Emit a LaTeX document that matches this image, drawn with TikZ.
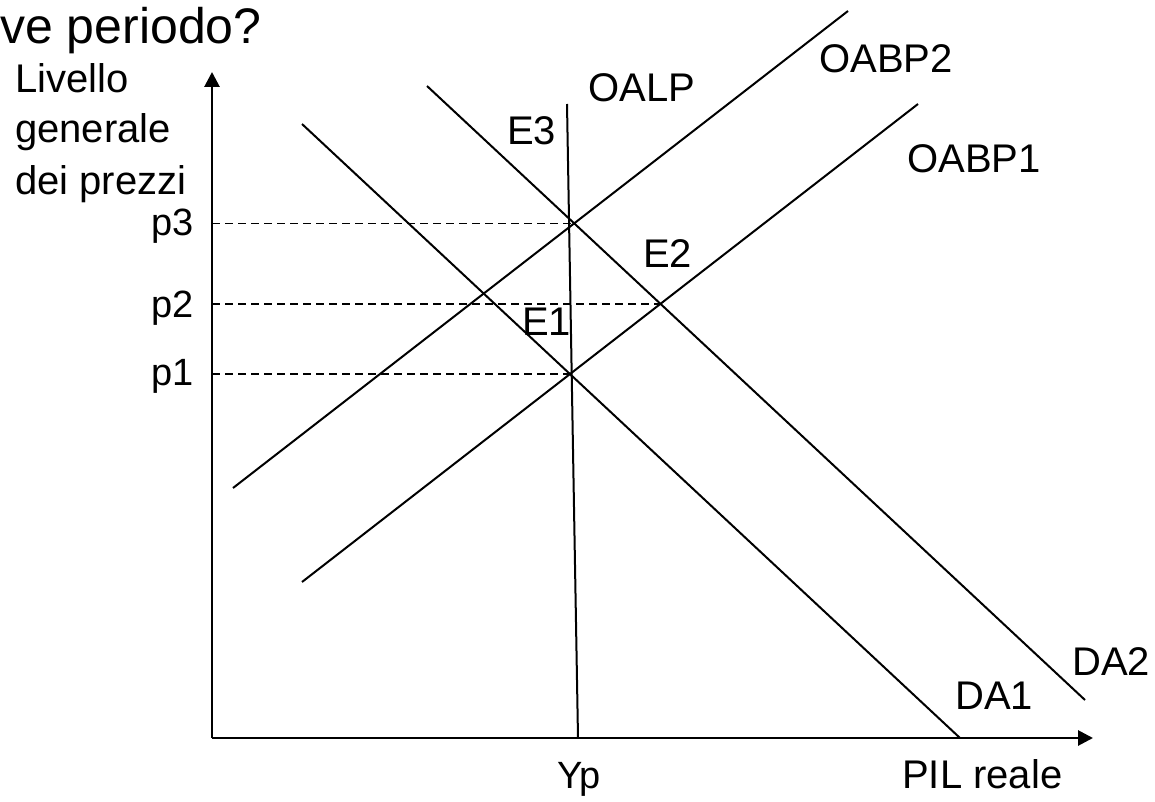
\documentclass[tikz,border=0pt]{standalone}
\usepackage{fontspec}
\setmainfont{Liberation Sans}
\usetikzlibrary{arrows.meta}
\begin{document}
\begin{tikzpicture}[x=1pt,y=-1pt,
  axis/.style={line width=2.8pt,-{Triangle[length=15pt,width=15pt]}},
  curve/.style={line width=2pt},
  guide/.style={line width=1.6pt,dash pattern=on 8pt off 5pt},
  lab/.style={inner sep=0pt,font=\fontsize{40}{48}\selectfont},
  plab/.style={inner sep=0pt,font=\fontsize{38}{44}\selectfont},
  ttl/.style={inner sep=0pt,font=\fontsize{50}{58}\selectfont}]
\useasboundingbox (0,0) rectangle (1155,802);
% axes
\coordinate (O) at (212,738);
\coordinate (ytop) at (212,72);
\coordinate (xend) at (1093,738);
\draw[axis] (O) -- (ytop);
\draw[axis] (O) -- (xend);
% curve endpoints
\coordinate (oalpB) at (578,738);
\coordinate (oalpT) at (567,104);
\coordinate (da1T) at (302,124);
\coordinate (da1B) at (960,738);
\coordinate (da2T) at (427,86);
\coordinate (da2B) at (1085,700);
\coordinate (ob1B) at (302,582);
\coordinate (ob1T) at (918,104);
\coordinate (ob2B) at (233,488);
\coordinate (ob2T) at (848,11);
\draw[curve] (oalpB) -- (oalpT);
\draw[curve] (da1T) -- (da1B);
\draw[curve] (da2T) -- (da2B);
\draw[curve] (ob1B) -- (ob1T);
\draw[curve] (ob2B) -- (ob2T);
% equilibria
\coordinate (E1) at (intersection of da1T--da1B and ob1B--ob1T);
\coordinate (E2) at (intersection of da2T--da2B and ob1B--ob1T);
\coordinate (E3) at (intersection of da2T--da2B and ob2B--ob2T);
\draw[guide] (O |- E3) -- (E3);
\draw[guide] (O |- E2) -- (E2);
\draw[guide] (O |- E1) -- (E1);
% labels
\node[ttl,anchor=base west] (title) at (0,44) {ve periodo?};
\node[lab,anchor=base west] (ylab1) at (15,93) {Livello};
\node[lab,anchor=base west] (ylab2) at (15,143) {generale};
\node[lab,anchor=base west] (ylab3) at (15,195) {dei prezzi};
\node[plab,anchor=base east] (p3) at (194,236) {p3};
\node[plab,anchor=base east] (p2) at (194,317) {p2};
\node[plab,anchor=base east] (p1) at (194,385) {p1};
\node[lab,anchor=base west] (lE3) at (507,145) {E3};
\node[lab,anchor=base west] (lOALP) at (588,102) {OALP};
\node[lab,anchor=base east] (lOB2) at (953,73) {OABP2};
\node[lab,anchor=base west] (lOB1) at (907,173) {OABP1};
\node[lab,anchor=base west] (lE2) at (643,267) {E2};
\node[lab,anchor=base west] (lE1) at (522,335) {E1};
\node[lab,anchor=base west] (lDA1) at (955,709) {DA1};
\node[lab,anchor=base west] (lDA2) at (1072,675) {DA2};
\node[lab,anchor=base west] (lPIL) at (902,788) {PIL reale};
\node[plab,anchor=base west] (lYp) at (557,788) {Yp};
\end{tikzpicture}
\end{document}
